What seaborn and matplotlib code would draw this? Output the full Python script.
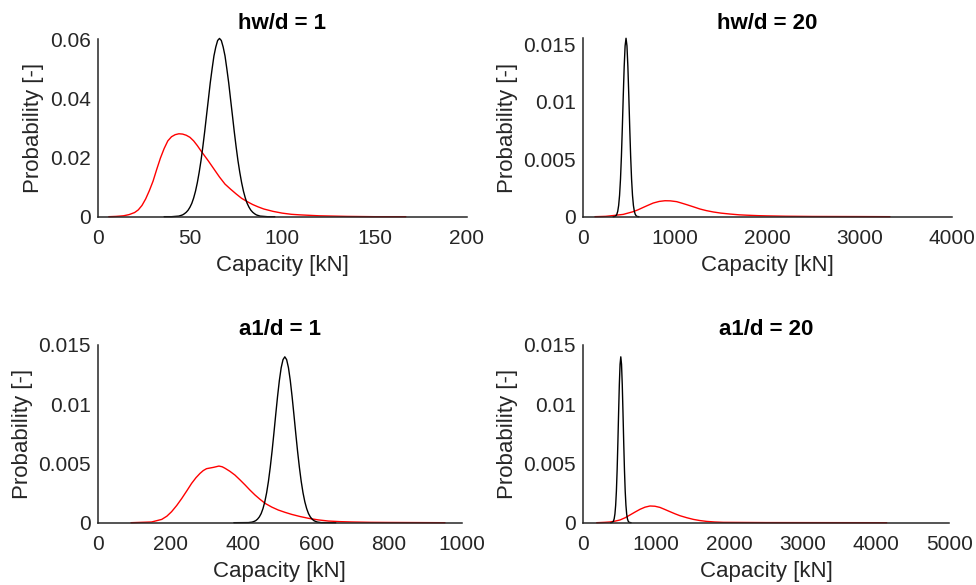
import numpy as np
import pandas as pd
import matplotlib
matplotlib.use("Agg")
import matplotlib.pyplot as plt
import seaborn as sns

# ---------------- data ----------------
titles = ["hw/d = 1", "hw/d = 20", "a1/d = 1", "a1/d = 20"]

# panel 1 : hw/d = 1
p1_black_x = [36, 40, 42, 44, 45, 46, 47, 48, 49, 50, 51, 52, 53, 54, 55, 56, 57, 58,
              59, 60, 61, 62, 63, 64, 65, 66, 67, 68, 69, 70, 71, 72, 73, 74, 75, 76,
              77, 78, 79, 80, 81, 82, 83, 84, 85, 86, 88, 90, 92, 96]
p1_black_y = [0.0, 0.0, 0.0001, 0.0002, 0.0004, 0.0006, 0.0010, 0.0015, 0.0022,
              0.0032, 0.0045, 0.0063, 0.0086, 0.0115, 0.0150, 0.0190, 0.0237, 0.0288,
              0.0343, 0.0397, 0.0452, 0.0499, 0.0543, 0.0573, 0.0595, 0.0602, 0.0595,
              0.0573, 0.0543, 0.0499, 0.0452, 0.0397, 0.0343, 0.0288, 0.0237, 0.0190,
              0.0150, 0.0115, 0.0086, 0.0063, 0.0045, 0.0032, 0.0022, 0.0015, 0.0010,
              0.0006, 0.0002, 0.0001, 0.0, 0.0]
p1_red_x = [6, 10, 14, 17, 20, 22, 24, 26, 28, 30, 32, 34, 36, 38, 40, 42, 44, 46,
            48, 50, 52, 54, 56, 58, 60, 63, 66, 69, 72, 75, 78, 81, 84, 87, 90, 95,
            100, 105, 110, 120, 135, 150, 167]
p1_red_y = [0.0, 0.0001, 0.0003, 0.0007, 0.0014, 0.0023, 0.0038, 0.0060, 0.0088,
            0.0120, 0.0160, 0.0198, 0.0230, 0.0256, 0.0270, 0.0277, 0.0280, 0.0279,
            0.0275, 0.0268, 0.0256, 0.0240, 0.0222, 0.0205, 0.0188, 0.0161, 0.0134,
            0.0110, 0.0093, 0.0077, 0.0062, 0.0051, 0.0041, 0.0033, 0.0026, 0.0018,
            0.0012, 0.0008, 0.0006, 0.0003, 0.0001, 0.0, 0.0]

# panel 2 : hw/d = 20
p2_black_x = [330, 350, 360, 370, 380, 390, 400, 410, 420, 430, 440, 450, 460, 470,
              480, 490, 500, 510, 520, 530, 540, 550, 560, 570, 580, 590, 610]
p2_black_y = [0.0, 0.00002, 0.00008, 0.0002, 0.00047, 0.00098, 0.00187, 0.00328,
              0.00527, 0.00778, 0.01054, 0.01308, 0.01489, 0.01555, 0.01489, 0.01308,
              0.01054, 0.00778, 0.00527, 0.00328, 0.00187, 0.00098, 0.00047, 0.0002,
              0.00008, 0.00002, 0.0]
p2_red_x = [133, 250, 332, 440, 549, 600, 657, 710, 765, 830, 892, 950, 1019, 1070,
            1127, 1200, 1271, 1340, 1416, 1500, 1597, 1700, 1778, 1900, 1995, 2200,
            2500, 3000, 3331]
p2_red_y = [0.0, 0.00003, 0.0001, 0.0002, 0.00044, 0.0006, 0.00081, 0.0010, 0.00119,
            0.00133, 0.00139, 0.00138, 0.00131, 0.00119, 0.00105, 0.00086, 0.00067,
            0.00053, 0.00041, 0.00031, 0.00023, 0.00016, 0.00013, 0.00009, 0.00007,
            0.00004, 0.00002, 0.00001, 0.0]

# panel 3 : a1/d = 1
p3_black_x = [374, 414, 424, 429, 434, 439, 444, 449, 454, 459, 464, 469, 474, 479,
              484, 489, 494, 499, 504, 509, 514, 519, 524, 529, 534, 539, 544, 549,
              554, 559, 564, 569, 574, 579, 584, 589, 594, 599, 604, 614, 654]
p3_black_y = [0.0, 0.00001, 0.00005, 0.0001, 0.00017, 0.0003, 0.00049, 0.00077,
              0.00119, 0.00176, 0.00252, 0.00349, 0.00468, 0.00604, 0.00755, 0.00912,
              0.01064, 0.0120, 0.01308, 0.01376, 0.0140, 0.01376, 0.01308, 0.0120,
              0.01064, 0.00912, 0.00755, 0.00604, 0.00468, 0.00349, 0.00252, 0.00176,
              0.00119, 0.00077, 0.00049, 0.0003, 0.00017, 0.0001, 0.00005, 0.00001, 0.0]
p3_red_x = [91.5, 148, 176, 190, 203, 217, 231, 245, 258, 270, 281, 290, 299, 318,
            333, 342, 350, 363, 377, 391, 405, 418, 432, 446, 460, 478, 496, 515,
            533, 556, 579, 605, 634, 665, 698, 750, 800, 954]
p3_red_y = [0.0, 0.00006, 0.00028, 0.00055, 0.00093, 0.00145, 0.00205, 0.0027,
            0.00332, 0.0038, 0.00416, 0.0044, 0.00456, 0.00467, 0.00478, 0.00472,
            0.00459, 0.00434, 0.00402, 0.00361, 0.00318, 0.00276, 0.00234, 0.00197,
            0.00163, 0.00132, 0.00107, 0.00087, 0.0007, 0.00052, 0.00037, 0.00024,
            0.00014, 0.00009, 0.00006, 0.00003, 0.00002, 0.0]

# panel 4 : a1/d = 20
p4_black_x = [380, 400, 410, 420, 430, 440, 450, 460, 470, 480, 490, 500, 510, 520,
              530, 540, 550, 560, 570, 580, 590, 600, 610, 620, 630, 640, 660]
p4_black_y = [0.0, 0.00002, 0.00005, 0.00014, 0.00034, 0.00074, 0.00148, 0.00267,
              0.00444, 0.00672, 0.00926, 0.01165, 0.01337, 0.0140, 0.01337, 0.01165,
              0.00926, 0.00672, 0.00444, 0.00267, 0.00148, 0.00074, 0.00034, 0.00014,
              0.00005, 0.00002, 0.0]
p4_red_x = [191, 300, 372, 440, 509, 580, 645, 715, 782, 850, 918, 985, 1054, 1120,
            1191, 1260, 1327, 1420, 1509, 1600, 1691, 1800, 1918, 2200, 2500, 4147]
p4_red_y = [0.0, 0.00003, 0.00006, 0.00013, 0.00023, 0.00042, 0.00065, 0.0009,
            0.00113, 0.00131, 0.00141, 0.00139, 0.00129, 0.00112, 0.00093, 0.00075,
            0.00059, 0.00042, 0.00028, 0.00018, 0.00011, 0.00006, 0.00003, 0.00002,
            0.00001, 0.0]

xlims = [(0, 200), (0, 4000), (0, 1000), (0, 5000)]
ylims = [(0, 0.06), (0, 0.01555), (0, 0.015), (0, 0.015)]
xticks = [[0, 50, 100, 150, 200], [0, 1000, 2000, 3000, 4000],
          [0, 200, 400, 600, 800, 1000], [0, 1000, 2000, 3000, 4000, 5000]]
yticks = [[0, 0.02, 0.04, 0.06], [0, 0.005, 0.01, 0.015],
          [0, 0.005, 0.01, 0.015], [0, 0.005, 0.01, 0.015]]
ytick_labels = [["0", "0.02", "0.04", "0.06"], ["0", "0.005", "0.01", "0.015"],
                ["0", "0.005", "0.01", "0.015"], ["0", "0.005", "0.01", "0.015"]]

series = [
    (p1_black_x, p1_black_y, p1_red_x, p1_red_y),
    (p2_black_x, p2_black_y, p2_red_x, p2_red_y),
    (p3_black_x, p3_black_y, p3_red_x, p3_red_y),
    (p4_black_x, p4_black_y, p4_red_x, p4_red_y),
]

# ---------------- styling ----------------
sns.set_style("white")
plt.rcParams["font.family"] = ["Liberation Sans", "DejaVu Sans"]
plt.rcParams["axes.edgecolor"] = "#262626"
plt.rcParams["xtick.color"] = "#262626"
plt.rcParams["ytick.color"] = "#262626"

fig = plt.figure(figsize=(9.76, 5.85), dpi=100)
positions = [
    [0.1001, 0.6296, 0.3781, 0.3037],
    [0.5970, 0.6296, 0.3781, 0.3050],
    [0.1001, 0.1065, 0.3730, 0.3038],
    [0.5970, 0.1065, 0.3756, 0.3038],
]

for i, (bx, by, rx, ry) in enumerate(series):
    ax = fig.add_axes(positions[i])
    red_df = pd.DataFrame({"x": rx, "y": ry})
    black_df = pd.DataFrame({"x": bx, "y": by})
    sns.lineplot(data=red_df, x="x", y="y", ax=ax, color="#ff0000",
                 linewidth=1.0, errorbar=None)
    sns.lineplot(data=black_df, x="x", y="y", ax=ax, color="#000000",
                 linewidth=1.0, errorbar=None)
    ax.set_xlim(*xlims[i])
    ax.set_ylim(*ylims[i])
    ax.set_xticks(xticks[i])
    ax.set_xticklabels([str(t) for t in xticks[i]])
    ax.set_yticks(yticks[i])
    ax.set_yticklabels(ytick_labels[i])
    ax.tick_params(axis="both", direction="in", length=3.5, width=1.0,
                   labelsize=15, colors="#262626")
    ax.tick_params(axis="x", pad=9)
    ax.tick_params(axis="y", pad=5)
    for s in ["top", "right"]:
        ax.spines[s].set_visible(False)
    for s in ["left", "bottom"]:
        ax.spines[s].set_linewidth(1.1)
        ax.spines[s].set_color("#262626")
    ax.set_xlabel("Capacity [kN]", fontsize=16, color="#262626", labelpad=5)
    ax.set_ylabel("Probability [-]", fontsize=16, color="#262626", labelpad=4)
    ax.set_title(titles[i], fontsize=16, fontweight="bold", color="black", pad=7)
    ax.patch.set_alpha(0)
    for line in ax.get_lines():
        line.set_clip_on(False)

fig.savefig("out.png", dpi=100, facecolor="white")
